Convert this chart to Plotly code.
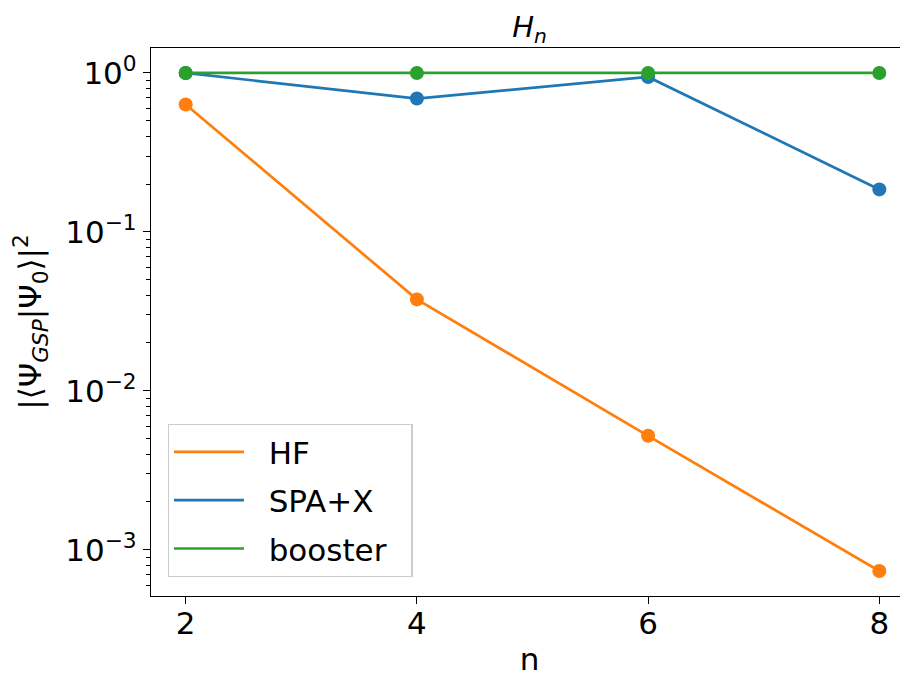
import plotly.graph_objects as go

n_vals = [2, 4, 6, 8]
hf = [0.633, 0.0376, 0.00521, 0.000735]
spa_x = [1.0, 0.690, 0.944, 0.185]
booster = [1.0, 1.0, 1.0, 1.0]

series = [("HF", hf, "#ff7f0e"), ("SPA+X", spa_x, "#1f77b4"), ("booster", booster, "#2ca02c")]

major_vals = [1, 0.1, 0.01, 0.001]
major_text = ["10<sup>0</sup>", "10<sup>−1</sup>", "10<sup>−2</sup>", "10<sup>−3</sup>"]
minor_vals = [m * 10.0 ** e for e in range(-4, 1) for m in range(2, 10)]

FONT = "DejaVu Sans"
FS = 31
NB = "\u00a0"
fig = go.Figure()
for name, ys, col in series:
    fig.add_trace(go.Scatter(x=n_vals, y=ys, mode="lines+markers", name=name,
                             line=dict(color=col, width=2.7),
                             marker=dict(color=col, size=14), showlegend=False))
for name, ys, col in series:
    fig.add_trace(go.Scatter(x=[None], y=[None], mode="lines", name=NB * 2 + name + NB * 2,
                             legendgroup=name,
                             line=dict(color=col, width=2.7), showlegend=True))

# page body has an 8px margin: figure is 900x669 placed at (8, 8)
fig.update_layout(
    width=900, height=669,
    margin=dict(l=143, r=0, t=40, b=81),
    paper_bgcolor="white", plot_bgcolor="white",
    font=dict(family=FONT, size=FS, color="black"),
    title=dict(text="<i>H<sub>n</sub></i>", x=(143 + 900) / 2 / 900, xanchor="center",
               y=1 - 19 / 669, yanchor="middle", yref="container",
               font=dict(family=FONT, size=FS - 2, color="black")),
    showlegend=True,
    legend=dict(x=0.022, y=0.314, xanchor="left", yanchor="top",
                bgcolor="white", bordercolor="#cccccc", borderwidth=1.3,
                itemwidth=70, font=dict(family=FONT, size=FS, color="black"),
                tracegroupgap=5),
    xaxis=dict(range=[1.70, 8.248], tickvals=n_vals, ticktext=[str(v) for v in n_vals],
               automargin=False, ticklabelstandoff=-7,
               showgrid=False, zeroline=False, showline=True, linecolor="black", linewidth=1.3,
               mirror=True, ticks="outside", ticklen=7, tickwidth=1.3, tickcolor="black",
               title=dict(text="n", standoff=14, font=dict(family=FONT, size=FS))),
    yaxis=dict(type="log", range=[-3.291, 0.157], tickvals=major_vals, ticktext=major_text,
               automargin=False,
               showgrid=False, zeroline=False, showline=True, linecolor="black", linewidth=1.3,
               ticks="outside", ticklen=7, tickwidth=1.3, tickcolor="black",
               minor=dict(tickmode="array", tickvals=minor_vals, ticks="outside", ticklen=4,
                          tickwidth=1, tickcolor="black", showgrid=False),
               title=dict(text="|⟨Ψ<sub><i>GSP</i></sub>|Ψ<sub>0</sub>⟩|<sup>2</sup>", standoff=17,
                          font=dict(family=FONT, size=FS))),
)

fig.write_html("out.html")
